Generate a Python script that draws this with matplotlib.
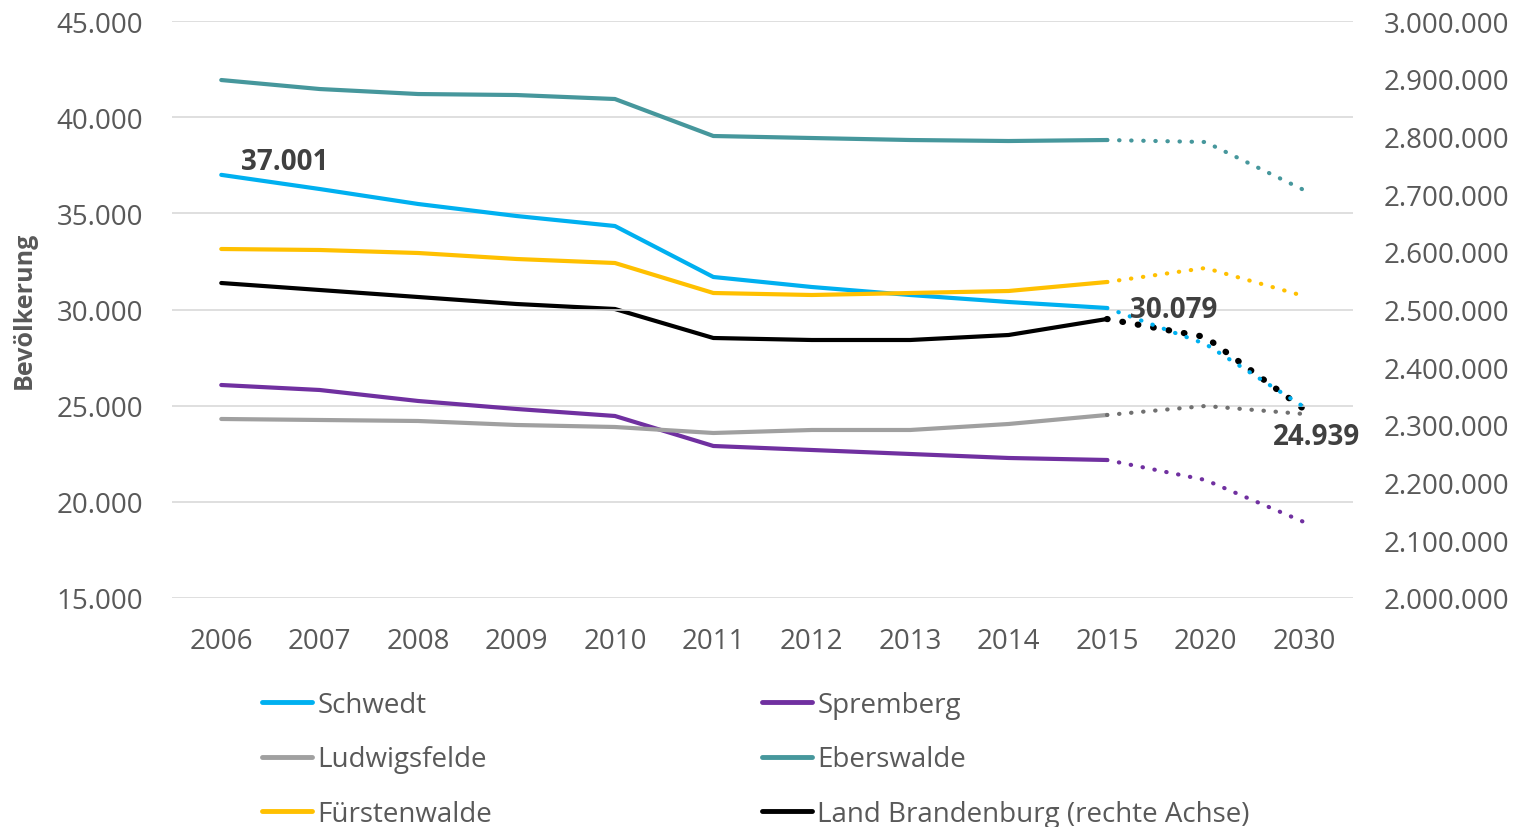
import numpy as np
import matplotlib.pyplot as plt
from matplotlib.lines import Line2D

plt.rcParams['font.family'] = ['Open Sans', 'DejaVu Sans']

# dane

jahre = ["2006", "2007", "2008", "2009", "2010", "2011", "2012", "2013", "2014", "2015", "2020", "2030"]

schwedt = [37001, 36265, 35486, 34861, 34341, 31690, 31170, 30754, 30390, 30079, 28206, 24939]
spremberg = [26074, 25815, 25243, 24827, 24463, 22903, 22695, 22487, 22279, 22175, 21135, 18952]
ludwigsfelde = [24307, 24255, 24203, 23995, 23891, 23579, 23735, 23735, 24047, 24515, 24983, 24567]
eberswalde = [41932, 41464, 41204, 41152, 40945, 39021, 38917, 38813, 38761, 38813, 38709, 36213]
fuerstenwalde = [33146, 33094, 32938, 32626, 32418, 30858, 30754, 30858, 30962, 31430, 32158, 30702]
brandenburg = [2545927, 2533795, 2521664, 2509532, 2500867, 2450607, 2447140, 2447140, 2455806,
               2483536, 2452340, 2327556]

# wykres

szary = "#595959"


def fmt(v):
    return f"{v:,.0f}".replace(",", ".")


fig = plt.figure(figsize=(15.28, 8.28), dpi=100)
ax = fig.add_axes([0.1126, 0.2766, 0.7729, 0.6968])
ax2 = ax.twinx()

x = np.arange(len(jahre))
serien = [
    (schwedt, "#00B0F0", "#00B0F0", "Schwedt"),
    (spremberg, "#7030A0", "#7030A0", "Spremberg"),
    (ludwigsfelde, "#A0A0A0", "#707070", "Ludwigsfelde"),
    (eberswalde, "#46979C", "#46979C", "Eberswalde"),
    (fuerstenwalde, "#FFC000", "#FFC000", "Fürstenwalde"),
]
for werte, farbe, farbe2, name in serien:
    ax.plot(x[:10], werte[:10], color=farbe, lw=3, solid_capstyle="round", zorder=3)
    ax.plot(x[9:], werte[9:], color=farbe2, lw=3, linestyle=(0, (0.1, 2.8)),
            dash_capstyle="round", zorder=3)

ax2.plot(x[:10], brandenburg[:10], color="black", lw=3, solid_capstyle="round", zorder=3)
ax2.plot(x[9:], brandenburg[9:], color="black", lw=4.5, linestyle=(0, (0.1, 2.4)),
         dash_capstyle="round", zorder=3)

ax.set_xlim(-0.5, 11.5)
ax.set_ylim(15000, 45000)
ax.set_yticks(np.arange(15000, 45001, 5000))
ax.set_yticklabels([fmt(v) for v in np.arange(15000, 45001, 5000)])
ax2.set_ylim(2000000, 3000000)
ax2.set_yticks(np.arange(2000000, 3000001, 100000))
ax2.set_yticklabels([fmt(v) for v in np.arange(2000000, 3000001, 100000)])
ax.set_xticks(x)
ax.set_xticklabels(jahre)

ax.grid(axis="y", color="#D9D9D9", lw=1.2)
ax.set_axisbelow(True)
for a in (ax, ax2):
    for s in a.spines.values():
        s.set_visible(False)
    a.tick_params(length=0, labelsize=20, labelcolor=szary)
ax.tick_params(axis="y", pad=21)
ax.tick_params(axis="x", pad=21)
ax2.tick_params(axis="y", pad=22)
ax.set_zorder(ax2.get_zorder() + 1)
ax.patch.set_visible(False)

ax.set_ylabel("Bevölkerung", fontsize=18, fontweight="bold", color=szary, labelpad=14)

# etykiety
ax.text(0.2, schwedt[0] + 680, fmt(schwedt[0]), fontsize=20, fontweight="bold", color="#404040",
        ha="left", va="center")
ax.text(0.23 + 9, schwedt[9] - 60, fmt(schwedt[9]), fontsize=20, fontweight="bold", color="#404040",
        ha="left", va="center")
ax.text(11.13, schwedt[11] - 1520, fmt(schwedt[11]), fontsize=20, fontweight="bold", color="#404040",
        ha="center", va="center")

# legenda
uchwyty = [
    Line2D([], [], color="#00B0F0", lw=3.5, solid_capstyle="round"),
    Line2D([], [], color="#A0A0A0", lw=3.5, solid_capstyle="round"),
    Line2D([], [], color="#FFC000", lw=3.5, solid_capstyle="round"),
    Line2D([], [], color="#7030A0", lw=3.5, solid_capstyle="round"),
    Line2D([], [], color="#46979C", lw=3.5, solid_capstyle="round"),
    Line2D([], [], color="black", lw=3.5, solid_capstyle="round"),
]
nazwy = ["Schwedt", "Ludwigsfelde", "Fürstenwalde", "Spremberg", "Eberswalde",
         "Land Brandenburg (rechte Achse)"]
leg = fig.legend(uchwyty, nazwy, ncol=2, loc="upper left", bbox_to_anchor=(0.1715, 0.1645),
                 frameon=False, fontsize=20, handlelength=1.8, handletextpad=0.2,
                 columnspacing=9.7, labelspacing=0.96, borderaxespad=0, borderpad=0)
for t in leg.get_texts():
    t.set_color(szary)

plt.savefig("out.png", dpi=100)
